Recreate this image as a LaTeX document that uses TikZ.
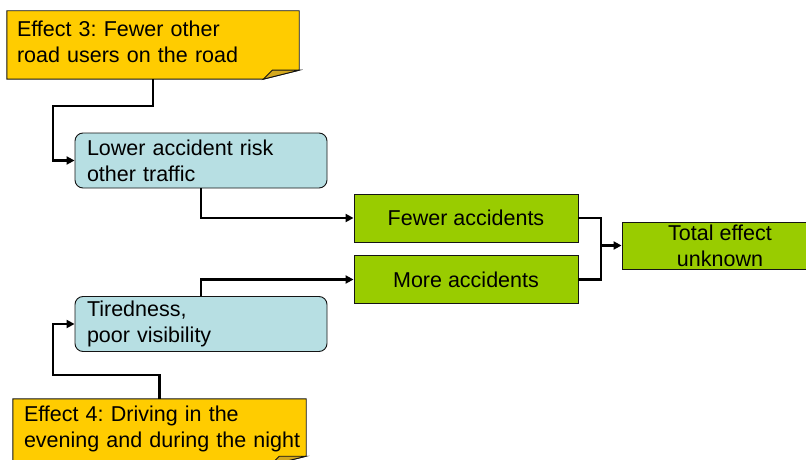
\documentclass[tikz,border=0pt]{standalone}
\usepackage{fontspec}
\setmainfont{Liberation Sans}
\frenchspacing
\usetikzlibrary{arrows.meta,calc}
\definecolor{noteyellow}{RGB}{255,204,0}
\definecolor{notefold}{RGB}{212,168,30}
\definecolor{paleblue}{RGB}{183,223,227}
\definecolor{leafgreen}{RGB}{153,204,0}
\definecolor{edge}{RGB}{20,20,20}
\tikzset{
  txt/.style={font=\fontsize{21.5}{26}\selectfont, text=black, inner ysep=0pt},
  notebox/.style={txt, rectangle, align=left, anchor=center},
  causebox/.style={txt, rectangle, rounded corners=8pt, draw=edge, line width=0.9pt,
    fill=paleblue, align=left, inner xsep=12pt, text width=228pt,
    minimum width=252pt, minimum height=55pt},
  resultbox/.style={txt, rectangle, draw=edge, line width=0.9pt, fill=leafgreen,
    align=center, minimum height=48pt},
  link/.style={draw=black, line width=2.1pt},
  linkarrow/.style={link, -{Triangle[length=8pt,width=8pt]}}
}
\begin{document}
\begin{tikzpicture}[x=1pt,y=-1pt]
\useasboundingbox (0,0) rectangle (806,460);
\clip (0,0) rectangle (806,460);

% yellow notes: place the (empty) frames first, then paint them with a folded corner
\node[notebox, minimum width=292pt, minimum height=68pt] (n3) at (153,45) {};
\node[notebox, minimum width=293pt, minimum height=66pt] (n4) at (159.5,432) {};
\foreach \n in {n3,n4} {
  \path[fill=noteyellow, draw=edge, line width=0.9pt]
    (\n.north west) -- (\n.north east) -- ($(\n.south east)+(0,-9)$)
    -- ($(\n.south east)+(-36,0)$) -- (\n.south west) -- cycle;
  \path[fill=notefold, draw=edge, line width=0.9pt]
    ($(\n.south east)+(-36,0)$) -- ($(\n.south east)+(-27,-9)$)
    -- ($(\n.south east)+(0,-9)$) -- cycle;
}
\node[notebox, inner xsep=10pt, text width=282pt, anchor=west] (t3) at ($(n3.west)+(0,-3)$)
  {Effect 3: Fewer other\\road users on the road};
\node[notebox, inner xsep=11pt, text width=282pt, anchor=west] (t4) at ($(n4.west)+(0,-3)$)
  {Effect 4: Driving in the\\evening and during the night};

% intermediate causes
\node[causebox] (risk) at (201,160.5) {Lower accident risk\\other traffic};
\node[causebox] (tired) at (201,324) {Tiredness,\\poor visibility};

% outcomes
\node[resultbox, minimum width=224pt] (fewer) at (466,218) {Fewer accidents};
\node[resultbox, minimum width=224pt] (more) at (466,279.5) {More accidents};
\node[resultbox, minimum width=196pt, minimum height=47pt] (total) at (720,245.5)
  {Total effect\\unknown};

% connectors
\coordinate (k3) at (53,106);
\coordinate (k4) at (53,375);
\coordinate (j) at (601,245.5);
\draw[linkarrow] (n3.south) -- (n3.south |- k3) -- (k3) |- (risk.west);
\draw[linkarrow] (n4.north) -- (n4.north |- k4) -- (k4) |- (tired.west);
\draw[linkarrow] (risk.south) |- (fewer.west);
\draw[linkarrow] (tired.north) |- (more.west);
\draw[link] (fewer.east) -| (j);
\draw[link] (more.east) -| (j);
\draw[linkarrow] (j) -- (total.west);
\end{tikzpicture}
\end{document}
